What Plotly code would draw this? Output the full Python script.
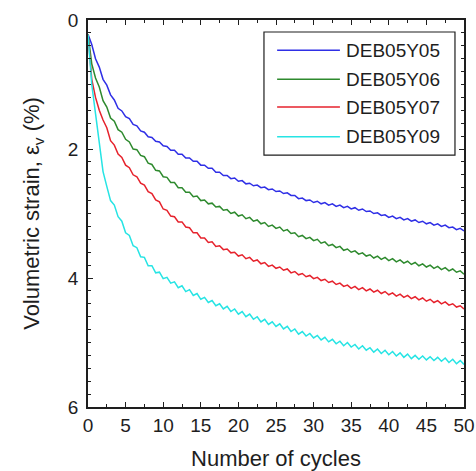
import plotly.graph_objects as go

# Cycle count axis: values are sampled at the end of each cycle and at mid-cycle
cycles = list(range(0, 51))
half_cycles = [c + 0.5 for c in range(0, 50)]

series_names = ["DEB05Y05", "DEB05Y06", "DEB05Y07", "DEB05Y09"]
series_colors = ["#2f2fe6", "#2e8a2e", "#e6222c", "#26e4e4"]

# Volumetric strain (%) at the end of each cycle
blue_end = [0.22, 0.60, 0.92, 1.16, 1.37, 1.50, 1.62, 1.72, 1.81, 1.88, 1.95, 2.02, 2.08,
            2.14, 2.19, 2.25, 2.30, 2.36, 2.41, 2.46, 2.50, 2.54, 2.57, 2.60, 2.63, 2.66,
            2.69, 2.72, 2.77, 2.80, 2.83, 2.85, 2.87, 2.89, 2.91, 2.93, 2.95, 2.97, 3.00,
            3.03, 3.06, 3.08, 3.10, 3.12, 3.14, 3.16, 3.18, 3.20, 3.22, 3.25, 3.27]
green_end = [0.22, 0.90, 1.25, 1.52, 1.70, 1.85, 2.00, 2.10, 2.22, 2.33, 2.43, 2.52, 2.60,
             2.67, 2.74, 2.80, 2.85, 2.90, 2.95, 3.00, 3.04, 3.08, 3.12, 3.16, 3.20, 3.23,
             3.27, 3.31, 3.36, 3.39, 3.42, 3.46, 3.50, 3.53, 3.57, 3.60, 3.63, 3.66, 3.69,
             3.71, 3.73, 3.75, 3.77, 3.79, 3.81, 3.83, 3.85, 3.87, 3.89, 3.91, 3.94]
red_end = [0.22, 1.20, 1.55, 1.87, 2.08, 2.25, 2.40, 2.53, 2.66, 2.79, 2.93, 3.04, 3.13,
           3.21, 3.30, 3.38, 3.45, 3.51, 3.56, 3.61, 3.66, 3.70, 3.74, 3.78, 3.82, 3.85,
           3.88, 3.92, 3.95, 3.98, 4.01, 4.04, 4.07, 4.10, 4.13, 4.16, 4.18, 4.20, 4.22,
           4.24, 4.26, 4.28, 4.30, 4.32, 4.34, 4.36, 4.38, 4.40, 4.42, 4.45, 4.48]
cyan_end = [0.22, 1.45, 2.35, 2.80, 3.05, 3.30, 3.50, 3.67, 3.81, 3.92, 4.01, 4.08, 4.15,
            4.21, 4.27, 4.33, 4.38, 4.43, 4.48, 4.52, 4.56, 4.60, 4.64, 4.68, 4.72, 4.75,
            4.79, 4.83, 4.87, 4.90, 4.93, 4.96, 4.99, 5.02, 5.05, 5.07, 5.10, 5.12, 5.15,
            5.17, 5.19, 5.21, 5.23, 5.25, 5.26, 5.27, 5.28, 5.29, 5.31, 5.33, 5.34]

# Volumetric strain (%) at mid-cycle (partial recovery on unloading)
blue_mid = [0.38, 0.73, 1.01, 1.24, 1.41, 1.53, 1.64, 1.74, 1.82, 1.89, 1.96, 2.02, 2.08,
            2.14, 2.19, 2.25, 2.30, 2.36, 2.41, 2.45, 2.49, 2.53, 2.56, 2.59, 2.62, 2.65,
            2.68, 2.72, 2.76, 2.79, 2.81, 2.83, 2.85, 2.87, 2.89, 2.91, 2.93, 2.96, 2.99,
            3.02, 3.04, 3.06, 3.08, 3.10, 3.12, 3.14, 3.16, 3.18, 3.21, 3.23]
green_mid = [0.68, 1.04, 1.35, 1.57, 1.74, 1.89, 2.01, 2.12, 2.24, 2.34, 2.44, 2.52, 2.60,
             2.67, 2.73, 2.79, 2.84, 2.89, 2.94, 2.98, 3.02, 3.06, 3.10, 3.14, 3.18, 3.21,
             3.25, 3.30, 3.34, 3.37, 3.40, 3.44, 3.48, 3.51, 3.55, 3.58, 3.61, 3.64, 3.66,
             3.68, 3.70, 3.72, 3.74, 3.76, 3.78, 3.80, 3.82, 3.84, 3.86, 3.89]
red_mid = [0.92, 1.40, 1.67, 1.94, 2.13, 2.29, 2.43, 2.56, 2.69, 2.82, 2.95, 3.05, 3.13,
           3.22, 3.30, 3.38, 3.44, 3.50, 3.55, 3.60, 3.64, 3.68, 3.72, 3.76, 3.80, 3.83,
           3.86, 3.90, 3.93, 3.96, 3.99, 4.02, 4.05, 4.08, 4.11, 4.13, 4.15, 4.17, 4.19,
           4.21, 4.23, 4.25, 4.27, 4.29, 4.31, 4.33, 4.35, 4.37, 4.40, 4.43]
cyan_mid = [1.00, 1.88, 2.58, 2.87, 3.12, 3.34, 3.53, 3.68, 3.81, 3.91, 3.99, 4.06, 4.12,
            4.18, 4.24, 4.30, 4.35, 4.40, 4.44, 4.48, 4.52, 4.56, 4.60, 4.64, 4.68, 4.71,
            4.75, 4.79, 4.83, 4.86, 4.89, 4.92, 4.95, 4.98, 5.00, 5.03, 5.05, 5.08, 5.10,
            5.12, 5.14, 5.16, 5.18, 5.20, 5.21, 5.22, 5.23, 5.24, 5.26, 5.28]

x_ticks = list(range(0, 51, 5))
y_ticks = [0, 2, 4, 6]

FONT = "Liberation Sans, Arial, Helvetica, sans-serif"
INK = "#1e1e1e"


def interleave(end_vals, mid_vals):
    xs, ys = [], []
    for i, c in enumerate(cycles):
        xs.append(c)
        ys.append(end_vals[i])
        if i < len(half_cycles):
            xs.append(half_cycles[i])
            ys.append(mid_vals[i])
    return xs, ys


fig = go.Figure()
all_series = [(blue_end, blue_mid), (green_end, green_mid),
              (red_end, red_mid), (cyan_end, cyan_mid)]
for name, color, (e, m) in zip(series_names, series_colors, all_series):
    xs, ys = interleave(e, m)
    fig.add_trace(go.Scatter(x=xs, y=ys, mode="lines", name=name,
                             line=dict(color=color, width=1.5),
                             showlegend=False))

# Boxed legend with long line samples, drawn in plot-area coordinates
leg_x0, leg_x1, leg_y0, leg_y1 = 0.468, 0.976, 0.651, 0.969
fig.add_shape(type="rect", xref="paper", yref="paper",
              x0=leg_x0, x1=leg_x1, y0=leg_y0, y1=leg_y1,
              line=dict(color=INK, width=1.2), fillcolor="white", layer="above")
row_y = [0.922, 0.847, 0.775, 0.698]
for name, color, yy in zip(series_names, series_colors, row_y):
    fig.add_shape(type="line", xref="paper", yref="paper",
                  x0=0.503, x1=0.670, y0=yy, y1=yy,
                  line=dict(color=color, width=1.5), layer="above")
    fig.add_annotation(xref="paper", yref="paper", x=0.681, y=yy,
                       text=name, showarrow=False, xanchor="left", yanchor="middle",
                       font=dict(family=FONT, size=19, color=INK))

axis_common = dict(showline=True, linecolor=INK, linewidth=1.5, mirror="allticks",
                   ticks="inside", ticklen=5, tickwidth=1.2, tickcolor=INK,
                   showgrid=False, zeroline=False,
                   tickfont=dict(family=FONT, size=19, color=INK))

fig.update_xaxes(range=[0, 50], tickvals=x_ticks,
                 minor=dict(dtick=2.5, ticks="inside", ticklen=3, tickcolor=INK),
                 title=dict(text="Number of cycles", standoff=16,
                            font=dict(family=FONT, size=22, color=INK)),
                 **axis_common)
fig.update_yaxes(range=[6, 0], tickvals=y_ticks,
                 minor=dict(dtick=0.2, ticks="inside", ticklen=3, tickcolor=INK),
                 title=dict(text="Volumetric strain, ε<sub>v</sub> (%)", standoff=22,
                            font=dict(family=FONT, size=22, color=INK)),
                 ticklabelstandoff=4,
                 **axis_common)

fig.update_layout(width=476, height=471,
                  margin=dict(l=88, r=12, t=20, b=64, autoexpand=False),
                  plot_bgcolor="white", paper_bgcolor="white",
                  font=dict(family=FONT, color=INK))

fig.write_html("out.html")
